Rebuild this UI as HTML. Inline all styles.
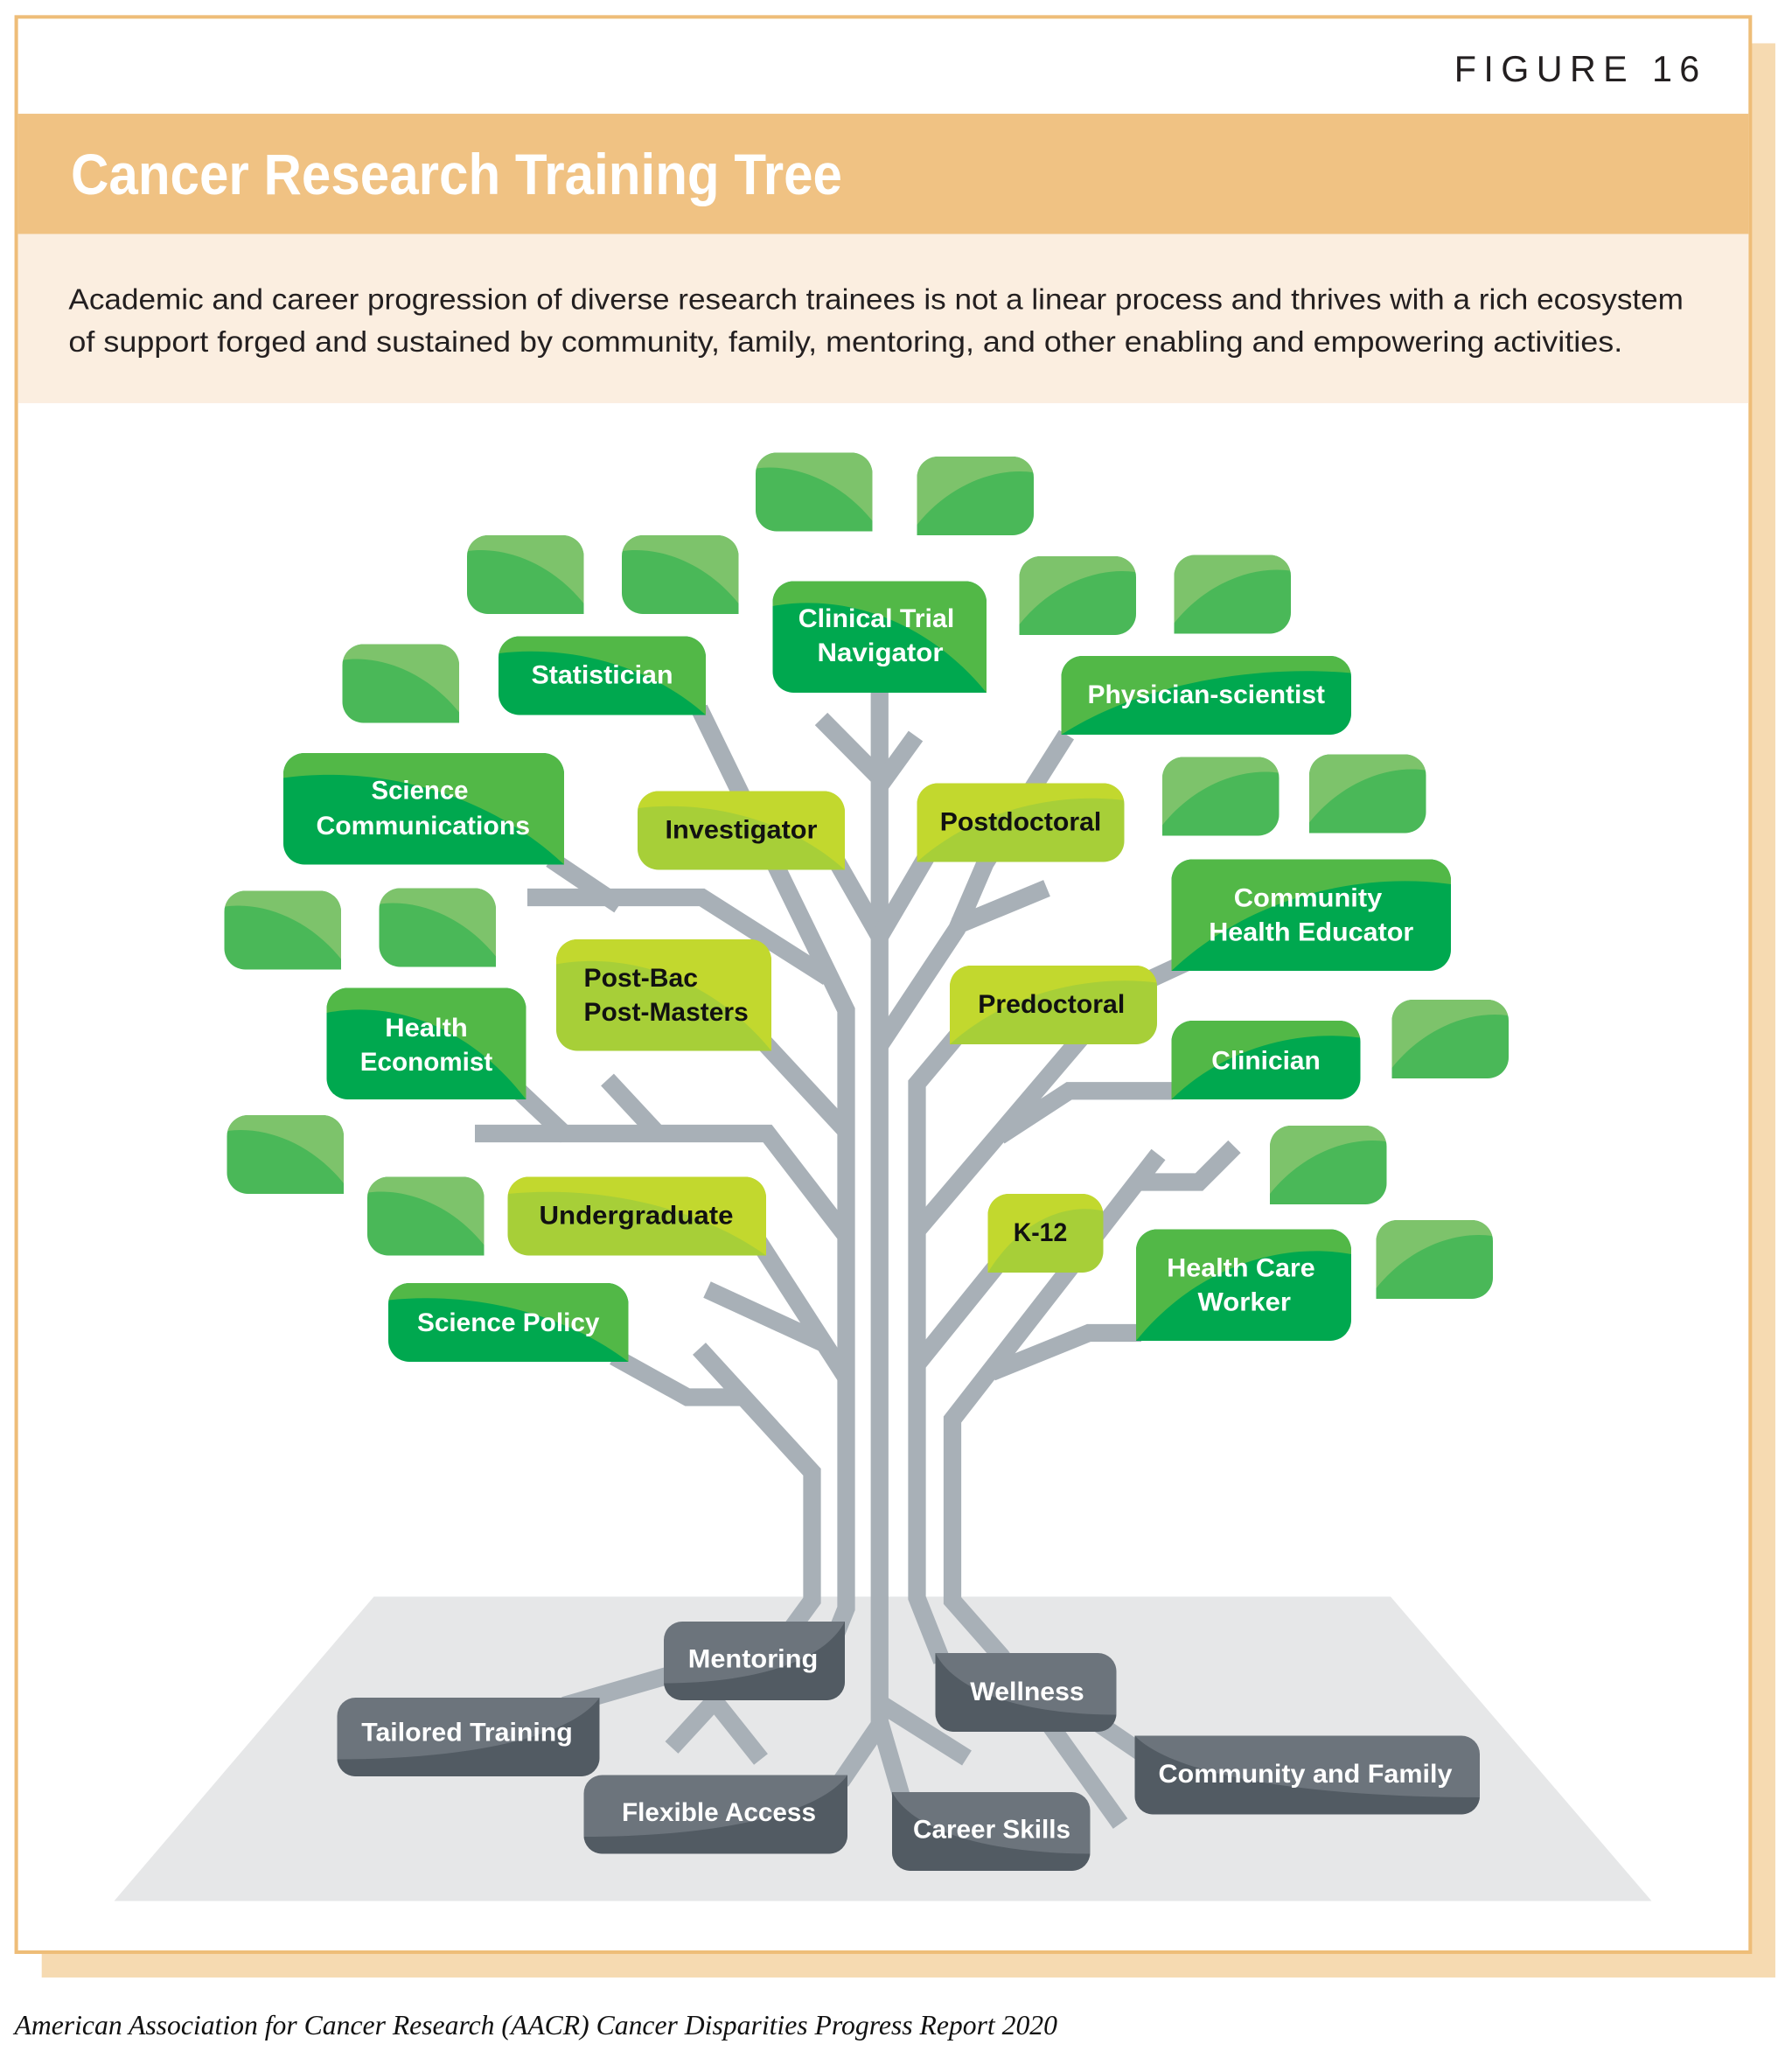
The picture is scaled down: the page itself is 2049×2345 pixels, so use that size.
<!DOCTYPE html>
<html><head><meta charset="utf-8">
<style>html,body{margin:0;padding:0;background:#fff;overflow:hidden}svg{display:block}</style>
</head><body>
<svg xmlns="http://www.w3.org/2000/svg" width="2049" height="2345" viewBox="0 0 1366 1563.333">
<defs>
<g id="lf"><path fill="#4ab858" d="M16 0H73A16 16 0 0 1 89 16V60H16A16 16 0 0 1 0 44V16A16 16 0 0 1 16 0Z"/><path fill="#7dc36b" d="M0.5 12C30 8 65 22 89 52V16A16 16 0 0 0 73 0H16A16 16 0 0 0 0 16Z"/></g>
<path id="b158" d="M16 0H142A16 16 0 0 1 158 16V60H16A16 16 0 0 1 0 44V16A16 16 0 0 1 16 0Z"/>
<path id="o158" d="M0.3 13C47 7 111 18 158 60V16A16 16 0 0 0 142 0H16A16 16 0 0 0 0 16Z"/>
<path id="b164" d="M16 0H148A16 16 0 0 1 164 16V85H16A16 16 0 0 1 0 69V16A16 16 0 0 1 16 0Z"/>
<path id="o164" d="M0 19C49 10 115 25 164 85V16A16 16 0 0 0 148 0H16A16 16 0 0 0 0 16Z"/>
<path id="g138" d="M14 0H138V46A14 14 0 0 1 124 60H14A14 14 0 0 1 0 46V14A14 14 0 0 1 14 0Z"/>
<path id="d138" d="M0 47C62 47 121 33 138 0V46A14 14 0 0 1 124 60H14A14 14 0 0 1 0 46Z"/>
</defs>

<!-- card -->
<rect x="31.8" y="33" width="1321.5" height="1474.3" fill="#f6dab1"/>
<rect x="12.4" y="12.9" width="1321.8" height="1475.1" fill="#ffffff" stroke="#eebd78" stroke-width="2.7"/>
<rect x="13.75" y="86.7" width="1319.1" height="91.7" fill="#f0c283"/>
<rect x="13.75" y="178.4" width="1319.1" height="128.9" fill="#fbeee0"/>

<text x="1108.5" y="62" font-family="'Liberation Sans', sans-serif" font-size="27.5" fill="#231f20" textLength="187" lengthAdjust="spacing">FIGURE 16</text>
<text x="54" y="148" font-family="'Liberation Sans', sans-serif" font-weight="bold" font-size="44" fill="#ffffff" textLength="588" lengthAdjust="spacingAndGlyphs">Cancer Research Training Tree</text>
<text x="52.3" y="235.6" font-family="'Liberation Sans', sans-serif" font-size="22.5" fill="#231f20" textLength="1231" lengthAdjust="spacingAndGlyphs">Academic and career progression of diverse research trainees is not a linear process and thrives with a rich ecosystem</text>
<text x="52.3" y="268" font-family="'Liberation Sans', sans-serif" font-size="22.5" fill="#231f20" textLength="1184.5" lengthAdjust="spacingAndGlyphs">of support forged and sustained by community, family, mentoring, and other enabling and empowering activities.</text>

<!-- ground -->
<polygon points="285,1217 1060,1217 1259,1449 87,1449" fill="#e6e7e8"/>

<!-- branches -->
<g fill="none" stroke="#a8b0b7" stroke-width="13.5" stroke-linejoin="miter" stroke-miterlimit="10">
<path d="M670.5 526V1318"/>
<path d="M626 548L670.5 593"/>
<path d="M698 561L670.5 599"/>
<path d="M634 650L670.5 714"/>
<path d="M708 650L670.5 714"/>
<path d="M670.5 797L729.5 708L751 658L813 560"/>
<path d="M728 706L798 677"/>
<path d="M533 540L645 770V1226L637 1246"/>
<path d="M420 655L472 690"/>
<path d="M402 684H535L631 745"/>
<path d="M580 792L645 862"/>
<path d="M362 864H585L645 942"/>
<path d="M396 832L432 866"/>
<path d="M463 823L503 866"/>
<path d="M578 946L645 1050"/>
<path d="M539 983L628 1024"/>
<path d="M468 1034L524 1065H570"/>
<path d="M533 1028L619 1122V1220L600 1246"/>
<path d="M735 783L699 826V1218L718 1266"/>
<path d="M825 790L699 938"/>
<path d="M762 866L815 831.5H894"/>
<path d="M858 755L910 731"/>
<path d="M699 1040L762 962"/>
<path d="M883 880L726 1082V1220L763 1262L804 1320L854 1390"/>
<path d="M866 901H914L941 874"/>
<path d="M756 1046L830 1016H870"/>
<path d="M671 1314L641 1358"/>
<path d="M670.5 1312L688 1372"/>
<path d="M670.5 1298L737 1340"/>
<path d="M826 1306L873 1338"/>
<path d="M430 1300L520 1274"/>
<path d="M512 1332L547 1294"/>
<path d="M580 1341L545 1297"/>
</g>

<!-- blank leaves -->
<use href="#lf" transform="translate(576,345)"/>
<use href="#lf" transform="translate(356,408)"/>
<use href="#lf" transform="translate(474,408)"/>
<use href="#lf" transform="translate(261,491)"/>
<use href="#lf" transform="translate(171,679)"/>
<use href="#lf" transform="translate(289,677)"/>
<use href="#lf" transform="translate(173,850)"/>
<use href="#lf" transform="translate(280,897)"/>
<use href="#lf" transform="translate(788,348) scale(-1,1)"/>
<use href="#lf" transform="translate(866,424) scale(-1,1)"/>
<use href="#lf" transform="translate(984,423) scale(-1,1)"/>
<use href="#lf" transform="translate(975,577) scale(-1,1)"/>
<use href="#lf" transform="translate(1087,575) scale(-1,1)"/>
<use href="#lf" transform="translate(1150,762) scale(-1,1)"/>
<use href="#lf" transform="translate(1057,858) scale(-1,1)"/>
<use href="#lf" transform="translate(1138,930) scale(-1,1)"/>

<!-- labeled green / yellow boxes -->
<g transform="translate(380,485)"><use href="#b158" fill="#00a84f"/><use href="#o158" fill="#52b847"/></g>
<g transform="translate(589,443)"><path fill="#00a84f" d="M16 0H147A16 16 0 0 1 163 16V85H16A16 16 0 0 1 0 69V16A16 16 0 0 1 16 0Z"/><path fill="#52b847" d="M0 19C49 10 114 25 163 85V16A16 16 0 0 0 147 0H16A16 16 0 0 0 0 16Z"/></g>
<g transform="translate(216,574)"><path fill="#00a84f" d="M16 0H198A16 16 0 0 1 214 16V85H16A16 16 0 0 1 0 69V16A16 16 0 0 1 16 0Z"/><path fill="#52b847" d="M0 19C64 10 150 25 214 85V16A16 16 0 0 0 198 0H16A16 16 0 0 0 0 16Z"/></g>
<g transform="translate(486,603)"><use href="#b158" fill="#a7cf38"/><use href="#o158" fill="#c2d82e"/></g>
<g transform="translate(424,716)"><use href="#b164" fill="#a7cf38"/><use href="#o164" fill="#c2d82e"/></g>
<g transform="translate(249,753)"><path fill="#00a84f" d="M16 0H136A16 16 0 0 1 152 16V85H16A16 16 0 0 1 0 69V16A16 16 0 0 1 16 0Z"/><path fill="#52b847" d="M0 19C46 10 106 25 152 85V16A16 16 0 0 0 136 0H16A16 16 0 0 0 0 16Z"/></g>
<g transform="translate(387,897)"><path fill="#a7cf38" d="M16 0H181A16 16 0 0 1 197 16V60H16A16 16 0 0 1 0 44V16A16 16 0 0 1 16 0Z"/><path fill="#c2d82e" d="M0.3 13C59 7 138 18 197 60V16A16 16 0 0 0 181 0H16A16 16 0 0 0 0 16Z"/></g>
<g transform="translate(296,978)"><path fill="#00a84f" d="M16 0H167A16 16 0 0 1 183 16V60H16A16 16 0 0 1 0 44V16A16 16 0 0 1 16 0Z"/><path fill="#52b847" d="M0.3 13C55 7 128 18 183 60V16A16 16 0 0 0 167 0H16A16 16 0 0 0 0 16Z"/></g>
<g transform="translate(1030,500) scale(-1,1)"><path fill="#00a84f" d="M16 0H205A16 16 0 0 1 221 16V60H16A16 16 0 0 1 0 44V16A16 16 0 0 1 16 0Z"/><path fill="#52b847" d="M0.3 13C66 7 155 18 221 60V16A16 16 0 0 0 205 0H16A16 16 0 0 0 0 16Z"/></g>
<g transform="translate(857,597) scale(-1,1)"><use href="#b158" fill="#a7cf38"/><use href="#o158" fill="#c2d82e"/></g>
<g transform="translate(1106,655) scale(-1,1)"><path fill="#00a84f" d="M16 0H197A16 16 0 0 1 213 16V85H16A16 16 0 0 1 0 69V16A16 16 0 0 1 16 0Z"/><path fill="#52b847" d="M0 19C64 10 149 25 213 85V16A16 16 0 0 0 197 0H16A16 16 0 0 0 0 16Z"/></g>
<g transform="translate(882,736) scale(-1,1)"><use href="#b158" fill="#a7cf38"/><use href="#o158" fill="#c2d82e"/></g>
<g transform="translate(1037,778) scale(-1,1)"><path fill="#00a84f" d="M16 0H128A16 16 0 0 1 144 16V60H16A16 16 0 0 1 0 44V16A16 16 0 0 1 16 0Z"/><path fill="#52b847" d="M0.3 13C43 7 101 18 144 60V16A16 16 0 0 0 128 0H16A16 16 0 0 0 0 16Z"/></g>
<g transform="translate(841,910) scale(-1,1)"><path fill="#a7cf38" d="M16 0H72A16 16 0 0 1 88 16V60H16A16 16 0 0 1 0 44V16A16 16 0 0 1 16 0Z"/><path fill="#c2d82e" d="M0.3 13C26 7 62 18 88 60V16A16 16 0 0 0 72 0H16A16 16 0 0 0 0 16Z"/></g>
<g transform="translate(1030,937) scale(-1,1)"><use href="#b164" fill="#00a84f"/><use href="#o164" fill="#52b847"/></g>

<!-- gray boxes -->
<g transform="translate(506,1236)"><use href="#g138" fill="#6c747c"/><use href="#d138" fill="#525b63"/></g>
<g transform="translate(257,1294)"><path fill="#6c747c" d="M14 0H200V46A14 14 0 0 1 186 60H14A14 14 0 0 1 0 46V14A14 14 0 0 1 14 0Z"/><path fill="#525b63" d="M0 47C90 47 176 33 200 0V46A14 14 0 0 1 186 60H14A14 14 0 0 1 0 46Z"/></g>
<g transform="translate(445,1353)"><path fill="#6c747c" d="M14 0H201V46A14 14 0 0 1 187 60H14A14 14 0 0 1 0 46V14A14 14 0 0 1 14 0Z"/><path fill="#525b63" d="M0 47C90 47 177 33 201 0V46A14 14 0 0 1 187 60H14A14 14 0 0 1 0 46Z"/></g>
<g transform="translate(831,1366) scale(-1,1)"><path fill="#6c747c" d="M14 0H151V46A14 14 0 0 1 137 60H14A14 14 0 0 1 0 46V14A14 14 0 0 1 14 0Z"/><path fill="#525b63" d="M0 47C68 47 133 33 151 0V46A14 14 0 0 1 137 60H14A14 14 0 0 1 0 46Z"/></g>
<g transform="translate(851,1260) scale(-1,1)"><use href="#g138" fill="#6c747c"/><use href="#d138" fill="#525b63"/></g>
<g transform="translate(1128,1323) scale(-1,1)"><path fill="#6c747c" d="M14 0H263V46A14 14 0 0 1 249 60H14A14 14 0 0 1 0 46V14A14 14 0 0 1 14 0Z"/><path fill="#525b63" d="M0 47C118 47 231 33 263 0V46A14 14 0 0 1 249 60H14A14 14 0 0 1 0 46Z"/></g>

<!-- labels -->
<g font-family="'Liberation Sans', sans-serif" font-weight="bold" font-size="20" fill="#ffffff" text-anchor="middle" lengthAdjust="spacingAndGlyphs">
<text x="459" y="521" textLength="108" lengthAdjust="spacingAndGlyphs">Statistician</text>
<text x="668" y="478" textLength="119" lengthAdjust="spacingAndGlyphs">Clinical Trial</text>
<text x="671" y="504" textLength="96" lengthAdjust="spacingAndGlyphs">Navigator</text>
<text x="919.5" y="536" textLength="181" lengthAdjust="spacingAndGlyphs">Physician-scientist</text>
<text x="320" y="609" textLength="74" lengthAdjust="spacingAndGlyphs">Science</text>
<text x="322.5" y="636" textLength="163" lengthAdjust="spacingAndGlyphs">Communications</text>
<text x="997" y="691" textLength="113" lengthAdjust="spacingAndGlyphs">Community</text>
<text x="999.5" y="717" textLength="156" lengthAdjust="spacingAndGlyphs">Health Educator</text>
<text x="325" y="790" textLength="63" lengthAdjust="spacingAndGlyphs">Health</text>
<text x="325" y="816" textLength="101" lengthAdjust="spacingAndGlyphs">Economist</text>
<text x="965" y="815" textLength="83" lengthAdjust="spacingAndGlyphs">Clinician</text>
<text x="946" y="973" textLength="113" lengthAdjust="spacingAndGlyphs">Health Care</text>
<text x="948.5" y="999" textLength="71" lengthAdjust="spacingAndGlyphs">Worker</text>
<text x="387.5" y="1014.5" textLength="139" lengthAdjust="spacingAndGlyphs">Science Policy</text>
<text x="574" y="1271" textLength="99" lengthAdjust="spacingAndGlyphs">Mentoring</text>
<text x="356" y="1327" textLength="161" lengthAdjust="spacingAndGlyphs">Tailored Training</text>
<text x="548" y="1388" textLength="148" lengthAdjust="spacingAndGlyphs">Flexible Access</text>
<text x="756" y="1401" textLength="120" lengthAdjust="spacingAndGlyphs">Career Skills</text>
<text x="783" y="1296" textLength="87" lengthAdjust="spacingAndGlyphs">Wellness</text>
<text x="995" y="1358.5" textLength="224" lengthAdjust="spacingAndGlyphs">Community and Family</text>
</g>
<g font-family="'Liberation Sans', sans-serif" font-weight="bold" font-size="20" fill="#111111" text-anchor="middle">
<text x="565" y="639" textLength="116" lengthAdjust="spacingAndGlyphs">Investigator</text>
<text x="778" y="633" textLength="123" lengthAdjust="spacingAndGlyphs">Postdoctoral</text>
<text x="801.5" y="772" textLength="112" lengthAdjust="spacingAndGlyphs">Predoctoral</text>
<text x="485" y="933" textLength="148" lengthAdjust="spacingAndGlyphs">Undergraduate</text>
<text x="793" y="946" textLength="41" lengthAdjust="spacingAndGlyphs">K-12</text>
<text x="445" y="752" text-anchor="start" textLength="87" lengthAdjust="spacingAndGlyphs">Post-Bac</text>
<text x="445" y="778" text-anchor="start" textLength="125.5" lengthAdjust="spacingAndGlyphs">Post-Masters</text>
</g>

<text x="11" y="1550.5" font-family="'Liberation Serif', serif" font-style="italic" font-size="21" fill="#111111" textLength="795" lengthAdjust="spacingAndGlyphs">American Association for Cancer Research (AACR) Cancer Disparities Progress Report 2020</text>
</svg>
</body></html>
